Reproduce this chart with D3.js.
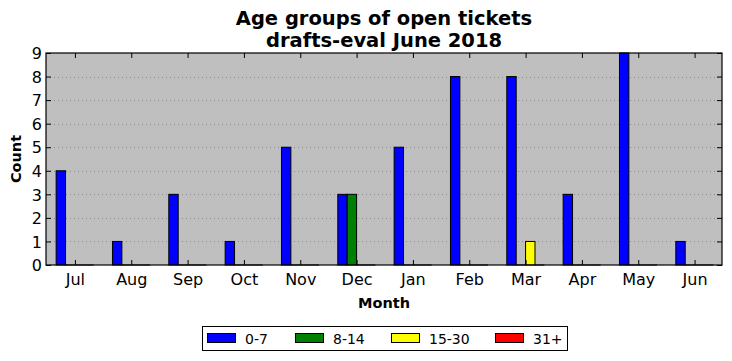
<!DOCTYPE html>
<html><head><meta charset="utf-8">
<script src="https://cdn.jsdelivr.net/npm/d3@7"></script>
<style>body{margin:0;background:#fff}svg{display:block;font-family:"DejaVu Sans",sans-serif}</style>
</head><body><svg id="c" width="732" height="361"></svg>
<script>
const months = ["Jul","Aug","Sep","Oct","Nov","Dec","Jan","Feb","Mar","Apr","May","Jun"];
const seriesNames = ["0-7","8-14","15-30","31+"];
const seriesColors = ["#0000ff","#008000","#ffff00","#ff0000"];
const s0_7   = [4,1,3,1,5,3,5,8,8,3,9,1];
const s8_14  = [0,0,0,0,0,3,0,0,0,0,0,0];
const s15_30 = [0,0,0,0,0,0,0,0,1,0,0,0];
const s31    = [0,0,0,0,0,0,0,0,0,0,0,0];
const yTicks = [0,1,2,3,4,5,6,7,8,9];
const titleLines = ["Age groups of open tickets","drafts-eval June 2018"];

const series = [s0_7,s8_14,s15_30,s31];
const svg = d3.select("#c");
const L=46,R=722,T=53,B=265;
const bw = 1/6;
const x = d3.scaleLinear().domain([-0.18,11.82]).range([L,R]);
const y = d3.scaleLinear().domain([0,9]).range([B,T]);

svg.append("rect").attr("x",L).attr("y",T).attr("width",R-L).attr("height",B-T).attr("fill","#bfbfbf");

// grid
svg.append("g").selectAll("line").data(yTicks.slice(1,-1)).join("line")
  .attr("x1",L).attr("x2",R).attr("y1",d=>Math.round(y(d))+0.5).attr("y2",d=>Math.round(y(d))+0.5)
  .attr("stroke","#808080").attr("stroke-width",0.8).attr("stroke-dasharray","1,3");

// bars
series.forEach((s,k)=>{
  const g = svg.append("g");
  s.forEach((v,i)=>{
    const x0 = x(i+k*bw), x1 = x(i+(k+1)*bw);
    if(v>0){
      g.append("rect").attr("x",x0).attr("y",y(v)).attr("width",x1-x0).attr("height",y(0)-y(v))
        .attr("fill",seriesColors[k]).attr("stroke","#000").attr("stroke-width",1);
    } else {
      g.append("line").attr("x1",x0).attr("x2",x1).attr("y1",y(0)).attr("y2",y(0))
        .attr("stroke","#000").attr("stroke-width",1);
    }
  });
});

// axes
const tickPos = months.map((m,i)=>i+2*bw);
const xb = d3.axisBottom(x).tickValues(tickPos).tickFormat((d,i)=>months[i]).tickSizeInner(-5).tickSizeOuter(0).tickPadding(9);
const gx = svg.append("g").attr("transform",`translate(0,${B})`).call(xb);
const xt = d3.axisTop(x).tickValues(tickPos).tickFormat("").tickSizeInner(-5).tickSizeOuter(0);
const gxt = svg.append("g").attr("transform",`translate(0,${T})`).call(xt);
const yl = d3.axisLeft(y).tickValues(yTicks).tickFormat(d3.format("d")).tickSizeInner(-5).tickSizeOuter(0).tickPadding(4);
const gy = svg.append("g").attr("transform",`translate(${L},0)`).call(yl);
const yr = d3.axisRight(y).tickValues(yTicks).tickFormat("").tickSizeInner(-5).tickSizeOuter(0);
const gyr = svg.append("g").attr("transform",`translate(${R},0)`).call(yr);
[gx,gxt,gy,gyr].forEach(g=>{
  g.select(".domain").remove();
  g.selectAll("line").attr("stroke","#000");
  g.selectAll("text").attr("font-size",16).attr("fill","#000").attr("font-family","DejaVu Sans");
});
gy.selectAll("text").attr("dy","0.36em");

svg.append("rect").attr("x",L).attr("y",T).attr("width",R-L).attr("height",B-T).attr("fill","none").attr("stroke","#000").attr("stroke-width",1.2);

// titles
svg.append("text").attr("x",(L+R)/2).attr("y",25).attr("text-anchor","middle").attr("font-weight","bold").attr("font-size",19.5).text(titleLines[0]);
svg.append("text").attr("x",(L+R)/2).attr("y",47).attr("text-anchor","middle").attr("font-weight","bold").attr("font-size",19.5).text(titleLines[1]);
svg.append("text").attr("x",(L+R)/2).attr("y",308).attr("text-anchor","middle").attr("font-weight","bold").attr("font-size",14.5).text("Month");
svg.append("text").attr("transform",`translate(21,${(T+B)/2}) rotate(-90)`).attr("text-anchor","middle").attr("font-weight","bold").attr("font-size",14.5).text("Count");

// legend
const lg = svg.append("g");
lg.append("rect").attr("x",202.5).attr("y",326.5).attr("width",365).attr("height",24).attr("fill","#fff").attr("stroke","#000");
const lx = [207,295,391,495];
seriesNames.forEach((n,k)=>{
  lg.append("rect").attr("x",lx[k]+0.5).attr("y",333.5).attr("width",28).attr("height",9).attr("fill",seriesColors[k]).attr("stroke","#000");
  lg.append("text").attr("x",lx[k]+38).attr("y",343.5).attr("font-size",14).text(n);
});
</script></body></html>
